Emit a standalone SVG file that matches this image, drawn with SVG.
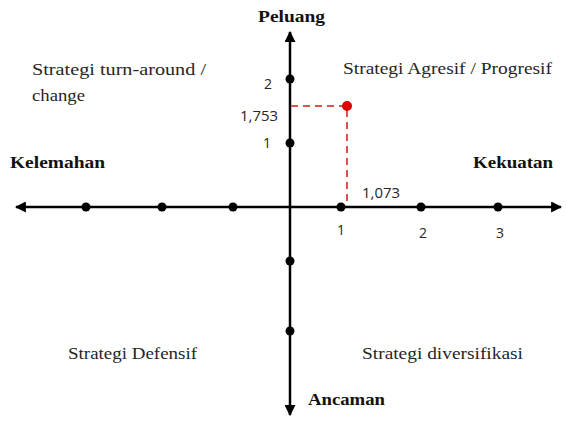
<svg xmlns="http://www.w3.org/2000/svg" width="567" height="423" viewBox="0 0 567 423">
<style>
.lbl{font-family:"Liberation Serif","DejaVu Serif",serif;font-size:17px;fill:#262626}
.hd{font-family:"Liberation Serif","DejaVu Serif",serif;font-size:17px;font-weight:bold;fill:#111}
.num{font-family:"Open Sans","Liberation Sans",sans-serif;font-size:14px;fill:#262626}
.ax{stroke:#000;stroke-width:2.5;fill:none}
.dot{fill:#000}
.dash{stroke:#d9534f;stroke-width:2;stroke-dasharray:7,5;fill:none}
</style>
<defs>
<marker id="ah" viewBox="0 0 10 10" refX="9" refY="5" markerWidth="4.4" markerHeight="4.4" orient="auto-start-reverse">
<path d="M0,0 L10,5 L0,10 z" fill="#000"/>
</marker>
</defs>
<rect width="567" height="423" fill="#fff"/>
<g id="connectors">
<line class="ax" x1="16" y1="207" x2="561" y2="207" marker-start="url(#ah)" marker-end="url(#ah)"/>
<line class="ax" x1="290" y1="207" x2="290" y2="32" marker-end="url(#ah)"/>
<line class="ax" x1="290" y1="207" x2="290" y2="415" marker-end="url(#ah)"/>
<polyline class="dash" points="291,106 347,106 347,205"/>
</g>
<g id="ticks">
<circle class="dot" cx="86" cy="207" r="4.5"/>
<circle class="dot" cx="162" cy="207" r="4.5"/>
<circle class="dot" cx="233" cy="207" r="4.5"/>
<circle class="dot" cx="341" cy="207" r="4.5"/>
<circle class="dot" cx="421" cy="207" r="4.5"/>
<circle class="dot" cx="498" cy="207" r="4.5"/>
<circle class="dot" cx="290" cy="79" r="4.5"/>
<circle class="dot" cx="290" cy="143" r="4.5"/>
<circle class="dot" cx="290" cy="261" r="4.5"/>
<circle class="dot" cx="290" cy="331" r="4.5"/>
</g>
<g id="point"><circle cx="347" cy="106" r="5" fill="#e00000"/></g>
<g id="labels">
<text class="hd" x="258" y="22" textLength="67" lengthAdjust="spacingAndGlyphs">Peluang</text>
<text class="hd" x="308" y="405" textLength="77" lengthAdjust="spacingAndGlyphs">Ancaman</text>
<text class="hd" x="10" y="168" textLength="95" lengthAdjust="spacingAndGlyphs">Kelemahan</text>
<text class="hd" x="473" y="168" textLength="80" lengthAdjust="spacingAndGlyphs">Kekuatan</text>
<text class="lbl" x="343" y="74" textLength="209" lengthAdjust="spacingAndGlyphs">Strategi Agresif / Progresif</text>
<text class="lbl" x="32" y="75" textLength="174" lengthAdjust="spacingAndGlyphs">Strategi turn-around /</text>
<text class="lbl" x="32" y="101" textLength="53" lengthAdjust="spacingAndGlyphs">change</text>
<text class="lbl" x="68" y="359" textLength="129" lengthAdjust="spacingAndGlyphs">Strategi Defensif</text>
<text class="lbl" x="362" y="359" textLength="161" lengthAdjust="spacingAndGlyphs">Strategi diversifikasi</text>
<text class="num" x="272" y="89" text-anchor="end">2</text>
<text class="num" x="278" y="121" text-anchor="end" textLength="38" lengthAdjust="spacingAndGlyphs">1,753</text>
<text class="num" x="271" y="148" text-anchor="end">1</text>
<text class="num" x="362" y="198" textLength="38" lengthAdjust="spacingAndGlyphs">1,073</text>
<text class="num" x="341" y="235" text-anchor="middle">1</text>
<text class="num" x="423" y="238" text-anchor="middle">2</text>
<text class="num" x="500" y="238" text-anchor="middle">3</text>
</g>
</svg>
